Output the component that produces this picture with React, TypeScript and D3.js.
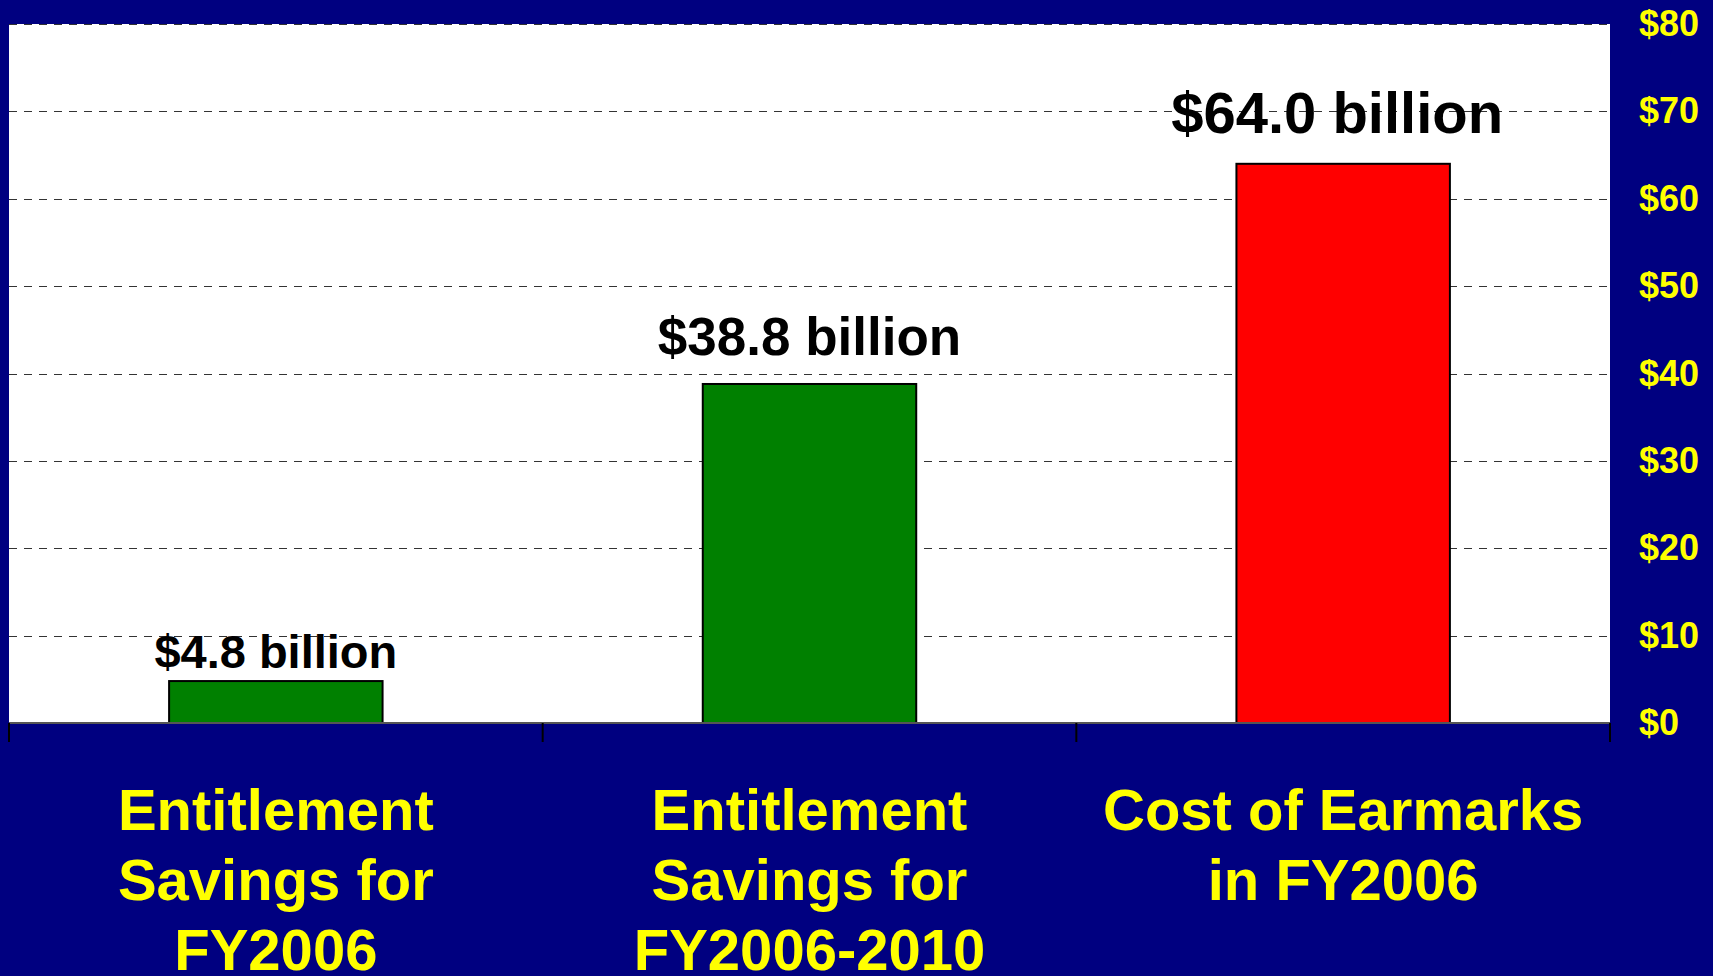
import React, { useEffect, useRef } from "react";
import * as d3 from "d3";

// chart values
const categories = ["fy2006", "fy2006_2010", "earmarks"];
const categoryLines = [
  ["Entitlement", "Savings for", "FY2006"],
  ["Entitlement", "Savings for", "FY2006-2010"],
  ["Cost of Earmarks", "in FY2006"],
];
const amounts = [4.8, 38.8, 64.0];
const amountLabels = ["$4.8 billion", "$38.8 billion", "$64.0 billion"];
const barColors = ["#008000", "#008000", "#ff0000"];
const yTicks = [0, 10, 20, 30, 40, 50, 60, 70, 80];

// label styling (the original slide used different sizes per label)
const labelFontSizes = [47, 53, 58];
const labelGaps = [13, 29, 31];
const labelShift = [0, 0, -6];

const W = 1713;
const H = 976;
const margin = { top: 24, right: 103, bottom: 253, left: 9 };
const FONT = "'Liberation Sans', Arial, Helvetica, sans-serif";

export default function App() {
  const ref = useRef<SVGSVGElement>(null);

  useEffect(() => {
    document.body.style.margin = "0";
    const svg = d3.select(ref.current);
    svg.selectAll("*").remove();

    const x = d3
      .scaleBand<string>()
      .domain(categories)
      .range([margin.left, W - margin.right])
      .paddingInner(0.6)
      .paddingOuter(0.3);
    const y = d3
      .scaleLinear()
      .domain([0, 80])
      .range([H - margin.bottom, margin.top]);

    // background
    svg.append("rect").attr("width", W).attr("height", H).attr("fill", "#000080");
    svg
      .append("rect")
      .attr("x", margin.left)
      .attr("y", y(80))
      .attr("width", W - margin.right - margin.left)
      .attr("height", y(0) - y(80))
      .attr("fill", "#ffffff");

    // dashed gridlines
    svg
      .append("g")
      .selectAll("line")
      .data(yTicks.filter((d) => d > 0))
      .join("line")
      .attr("x1", margin.left)
      .attr("x2", W - margin.right)
      .attr("y1", (d) => Math.round(y(d)) + 0.5)
      .attr("y2", (d) => Math.round(y(d)) + 0.5)
      .attr("stroke", "#333333")
      .attr("stroke-width", 1.2)
      .attr("stroke-dasharray", "8,7");

    // bars
    svg
      .append("g")
      .selectAll("rect")
      .data(amounts)
      .join("rect")
      .attr("x", (d, i) => x(categories[i]))
      .attr("y", (d) => y(d))
      .attr("width", x.bandwidth())
      .attr("height", (d) => y(0) - y(d))
      .attr("fill", (d, i) => barColors[i])
      .attr("stroke", "#000")
      .attr("stroke-width", 2);

    // zero line
    svg
      .append("line")
      .attr("x1", margin.left)
      .attr("x2", W - margin.right)
      .attr("y1", y(0))
      .attr("y2", y(0))
      .attr("stroke", "#555555")
      .attr("stroke-width", 2);

    // category boundary ticks
    const step = x.step();
    const x0 = x.range()[0];
    svg
      .append("g")
      .selectAll("line")
      .data(d3.range(categories.length + 1))
      .join("line")
      .attr("x1", (i) => x0 + i * step)
      .attr("x2", (i) => x0 + i * step)
      .attr("y1", y(0))
      .attr("y2", y(0) + 19)
      .attr("stroke", "#000")
      .attr("stroke-width", 2);

    // value labels
    svg
      .append("g")
      .selectAll("text")
      .data(amounts)
      .join("text")
      .attr("x", (d, i) => x(categories[i]) + x.bandwidth() / 2 + labelShift[i])
      .attr("y", (d, i) => y(d) - labelGaps[i])
      .attr("text-anchor", "middle")
      .style("font-family", FONT)
      .style("font-weight", "bold")
      .style("font-size", (d, i) => labelFontSizes[i] + "px")
      .style("fill", "#000")
      .text((d, i) => amountLabels[i]);

    // right axis
    const axisRight = svg
      .append("g")
      .attr("transform", `translate(${W - margin.right},0)`)
      .call(
        d3
          .axisRight(y)
          .tickValues(yTicks)
          .tickSize(0)
          .tickPadding(29)
          .tickFormat((d) => "$" + d)
      );
    axisRight.select(".domain").remove();
    axisRight
      .selectAll("text")
      .style("font-family", FONT)
      .style("font-weight", "bold")
      .style("font-size", "36px")
      .style("fill", "#ffff00");

    // category labels
    const cat = svg
      .append("g")
      .selectAll("text")
      .data(categories)
      .join("text")
      .attr("text-anchor", "middle")
      .style("font-family", FONT)
      .style("font-weight", "bold")
      .style("font-size", "58px")
      .style("fill", "#ffff00");
    cat
      .selectAll("tspan")
      .data((d, i) => categoryLines[i].map((t) => ({ t, cx: x(d) + x.bandwidth() / 2 })))
      .join("tspan")
      .attr("x", (d) => d.cx)
      .attr("y", (d, j) => y(0) + 107 + j * 70)
      .text((d) => d.t);
  }, []);

  return <svg ref={ref} width={W} height={H} style={{ display: "block" }} />;
}
